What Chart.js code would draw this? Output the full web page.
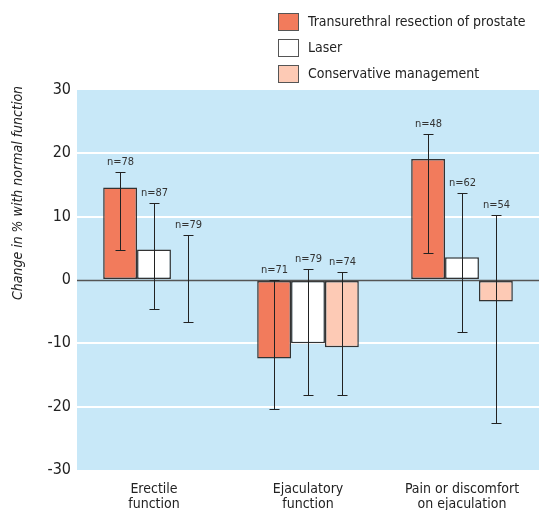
<!DOCTYPE html>
<html>
<head>
<meta charset="utf-8">
<script src="https://cdn.jsdelivr.net/npm/chart.js@4"></script>
<style>
  body { margin: 0; background: #fff; }
  #wrap { position: relative; width: 539px; height: 510px; }
  #legend { position: absolute; left: 278px; top: 13px; font-family: "DejaVu Sans Condensed", sans-serif; font-size: 14px; color: #222; white-space: nowrap; }
  #legend div { height: 26px; display: flex; align-items: flex-start; }
  #legend span.box { display: inline-block; width: 19px; height: 16px; border: 1px solid #555; margin-right: 9px; flex: none; }
  #legend span.txt { line-height: 17px; }
</style>
</head>
<body>
<div id="wrap">
  <canvas id="grafico" width="539" height="510"></canvas>
  <div id="legend"></div>
</div>
<script>
const categorias = [['Erectile', 'function'], ['Ejaculatory', 'function'], ['Pain or discomfort', 'on ejaculation']];
const ticksY = [-30, -20, -10, 0, 10, 20, 30];

const turp = [14.6, -12.4, 19.1];
const turpBajo = [4.8, -20.4, 4.3];
const turpAlto = [17.0, 0, 23.1];
const turpN = [78, 71, 48];

const laser = [4.8, -10.0, 3.6];
const laserBajo = [-4.6, -18.2, -8.2];
const laserAlto = [12.1, 1.8, 13.7];
const laserN = [87, 79, 62];

const conservador = [0, -10.6, -3.4];
const conservadorBajo = [-6.7, -18.2, -22.5];
const conservadorAlto = [7.1, 1.3, 10.2];
const conservadorN = [79, 74, 54];

const fuente = '"DejaVu Sans Condensed", sans-serif';

const series = [
    { label: 'Transurethral resection of prostate', data: turp, bajo: turpBajo, alto: turpAlto, n: turpN, color: '#F27B5C' },
    { label: 'Laser', data: laser, bajo: laserBajo, alto: laserAlto, n: laserN, color: '#FFFFFF' },
    { label: 'Conservative management', data: conservador, bajo: conservadorBajo, alto: conservadorAlto, n: conservadorN, color: '#FDCAB5' }
];

// leyenda en html
const leyenda = document.getElementById('legend');
series.forEach(s => {
    const fila = document.createElement('div');
    fila.innerHTML = `<span class="box" style="background:${s.color}"></span><span class="txt">${s.label}</span>`;
    leyenda.appendChild(fila);
});

const fondoPlugin = {
    id: 'fondo',
    beforeDraw(chart) {
        const { ctx, chartArea: a } = chart;
        ctx.save();
        ctx.fillStyle = '#C8E8F8';
        ctx.fillRect(a.left, a.top, a.right - a.left, a.bottom - a.top);
        ctx.restore();
    }
};

const erroresPlugin = {
    id: 'errores',
    afterDatasetsDraw(chart) {
        const { ctx, chartArea: a } = chart;
        const y = chart.scales.y;
        ctx.save();
        // linea del cero encima de las barras
        const y0 = Math.round(y.getPixelForValue(0)) + 0.5;
        ctx.strokeStyle = '#555';
        ctx.lineWidth = 1.5;
        ctx.beginPath();
        ctx.moveTo(a.left, y0);
        ctx.lineTo(a.right, y0);
        ctx.stroke();
        chart.data.datasets.forEach((ds, i) => {
            const meta = chart.getDatasetMeta(i);
            meta.data.forEach((bar, j) => {
                const x = Math.round(bar.x) + 0.5;
                const yAlto = Math.round(y.getPixelForValue(ds.alto[j])) + 0.5;
                const yBajo = Math.round(y.getPixelForValue(ds.bajo[j])) + 0.5;
                ctx.strokeStyle = '#222';
                ctx.lineWidth = 1;
                ctx.beginPath();
                ctx.moveTo(x, yAlto);
                ctx.lineTo(x, yBajo);
                ctx.moveTo(x - 5, yAlto);
                ctx.lineTo(x + 5, yAlto);
                ctx.moveTo(x - 5, yBajo);
                ctx.lineTo(x + 5, yBajo);
                ctx.stroke();
                ctx.fillStyle = '#333';
                ctx.font = '11px ' + fuente;
                ctx.textAlign = 'center';
                ctx.textBaseline = 'middle';
                ctx.fillText('n=' + ds.n[j], x, yAlto - 10);
            });
        });
        ctx.restore();
    }
};

const tituloPlugin = {
    id: 'tituloY',
    afterDraw(chart) {
        const { ctx } = chart;
        ctx.save();
        ctx.translate(18, 193);
        ctx.rotate(-Math.PI / 2);
        ctx.font = 'italic 14px ' + fuente;
        ctx.fillStyle = '#222';
        ctx.textAlign = 'center';
        ctx.textBaseline = 'middle';
        ctx.fillText('Change in % with normal function', 0, 0);
        ctx.restore();
    }
};

const ctx = document.getElementById('grafico').getContext('2d');
new Chart(ctx, {
    type: 'bar',
    data: {
        labels: categorias,
        datasets: series.map(s => ({
            label: s.label,
            data: s.data,
            bajo: s.bajo,
            alto: s.alto,
            n: s.n,
            backgroundColor: s.color,
            borderColor: '#333',
            borderWidth: 1.5,
            borderSkipped: false
        }))
    },
    options: {
        responsive: false,
        animation: false,
        layout: { padding: { top: 90, right: 0, bottom: 0, left: 0 } },
        plugins: {
            legend: { display: false },
            tooltip: { enabled: false }
        },
        datasets: {
            bar: { barPercentage: 1, categoryPercentage: 0.66 }
        },
        scales: {
            x: {
                grid: { display: false },
                border: { display: false },
                ticks: {
                    color: '#222',
                    padding: 4,
                    font: { family: fuente, size: 14, lineHeight: 1.05 },
                    maxRotation: 0
                },
                afterFit(scale) { scale.height = 40; }
            },
            y: {
                min: -30,
                max: 30,
                afterBuildTicks(scale) { scale.ticks = ticksY.map(v => ({ value: v })); },
                grid: {
                    drawTicks: false,
                    color: c => (c.tick.value === 0 || Math.abs(c.tick.value) === 30) ? 'rgba(0,0,0,0)' : '#FFFFFF',
                    lineWidth: 2,
                    z: 0
                },
                border: { display: false },
                ticks: {
                    color: '#222',
                    padding: 6,
                    font: { family: fuente, size: 16 }
                },
                afterFit(scale) { scale.width = 77; }
            }
        }
    },
    plugins: [fondoPlugin, erroresPlugin, tituloPlugin]
});
</script>
</body>
</html>
